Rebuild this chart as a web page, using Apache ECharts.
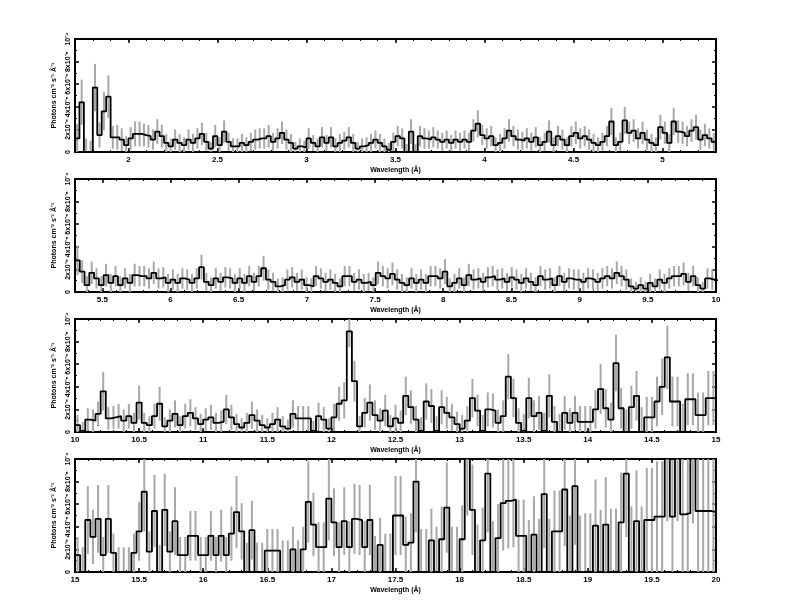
<!DOCTYPE html>
<html>
<head>
<meta charset="utf-8">
<script src="https://cdn.jsdelivr.net/npm/echarts@6/dist/echarts.min.js"></script>
<style>
  html, body { margin: 0; background: #fff; }
  #chart { width: 792px; height: 612px; }
</style>
</head>
<body>
<div id="chart"></div>
<script>
// flux values in units of 1e-6 photons cm-2 s-1 A-1, one per wavelength bin
const p1Val = [12,44,0,0,57,15,36,49,13,13, 11,6,12,16,16,15,14,11,18,14, 8,5,11,8,6,11,8,12,16,9,
  3,14,6,18,9,5,5,8,6,9, 11,12,12,14,9,12,17,11,8,3, 5,4,12,8,5,13,8,13,5,8, 10,13,
  8,3,5,6,8,11,8,5,2,9, 14,12,0,18,0,14,12,11,13,11, 9,11,8,11,9,11,9,19,25,15,
  12,14,6,8,12,19,14,11,10,12, 9,13,6,9,18,6,14,11,6,14, 17,12,14,11,8,6,9,14,27,6,
  9,28,17,19,12,17,11,8,6,22, 17,8,27,18,17,14,19,22,11,15, 12,9];
const p1Err = [13,20,12,10,21,11,17,19,10,11, 10,8,10,11,11,10,10,9,11,10, 8,7,9,8,7,9,8,9,10,8,
  6,10,7,10,8,7,7,8,7,8, 9,9,9,10,8,9,10,9,8,6, 7,6,9,7,7,9,7,9,7,8, 8,9,
  8,6,7,7,8,8,8,7,6,8, 9,9,7,11,7,9,9,8,9,8, 8,8,7,8,8,8,8,10,12,9,
  9,9,7,8,9,10,9,9,8,9, 8,9,7,8,10,7,9,9,7,9, 10,9,9,9,8,7,8,9,12,7,
  8,12,10,10,9,10,9,8,7,11, 10,8,12,10,10,9,10,11,9,10, 9,8];

const p2Val = [28,18,6,17,12,6,15,8,14,6, 12,8,15,14,14,12,17,12,13,8, 11,8,12,11,8,12,22,9,6,12,
  9,13,12,8,12,8,14,9,14,21, 11,9,5,6,11,13,9,11,6,5, 14,12,9,11,8,5,14,14,9,11,
  8,9,6,17,14,12,16,11,8,6,
  12,8,11,8,14,14,12,18,5,8, 12,6,15,11,12,9,13,14,11,12, 9,13,11,8,12,9,6,14,11,12,
  6,14,9,12,11,11,9,12,11,9, 12,14,12,17,14,11,5,3,6,3, 8,5,11,8,12,14,14,16,9,14,
  6,3,12,11,10];
const p2Err = [13,10,8,10,9,8,10,8,9,8, 9,8,10,9,9,9,10,9,9,8, 9,8,9,9,8,9,11,8,7,9,
  8,9,9,8,9,8,9,8,9,11, 9,8,7,7,9,9,8,9,7,7, 9,9,8,9,8,7,9,9,8,9,
  8,8,7,10,9,9,10,9,8,7,
  9,8,9,8,9,9,9,11,7,8, 9,7,10,9,9,8,9,9,9,9, 8,9,9,8,9,8,7,9,9,9,
  7,9,8,9,9,9,8,9,9,8, 9,9,9,10,9,9,7,6,7,6, 8,7,9,8,9,9,9,10,8,9,
  7,6,9,9,9];

const p3Val = [6,1,11,10,16,36,12,13,14,10, 14,8,26,8,6,14,25,5,10,16, 6,14,17,12,7,11,13,8,9,20,
  13,7,4,8,15,10,6,4,7,11, 5,3,16,12,12,12,1,14,11,3, 13,25,28,89,45,5,17,26,15,10,
  19,5,12,8,32,22,11,1,27,23, 1,22,17,13,7,3,10,30,19,1, 20,19,8,14,49,30,8,1,30,14,
  17,1,32,9,0,17,8,17,9,9, 9,20,38,21,11,61,21,0,22,32, 0,13,13,27,40,66,27,27,0,29,
  29,15,15,30,30];
const p3Err = [9,8,10,10,11,17,10,10,11,10, 11,9,15,9,8,11,15,8,10,12, 8,11,12,10,9,10,11,9,10,13,
  11,9,8,9,12,10,9,8,10,11, 9,8,12,11,11,11,9,12,11,9, 12,15,16,14,18,9,13,16,13,11,
  14,10,12,11,17,15,12,12,16,15, 13,15,14,12,11,12,13,17,14,14, 15,15,12,14,20,17,13,15,18,14,
  15,16,19,14,16,15,13,15,14,14, 14,17,22,17,15,25,18,20,19,22, 22,18,18,22,25,28,22,22,25,23,
  23,20,20,24,24];

const p4Val = [15,0,46,31,47,15,47,17,0,0, 0,17,36,71,18,54,0,55,18,45, 15,15,32,32,15,15,32,15,32,15,
  34,53,36,0,37,0,0,19,19,19, 0,0,20,0,20,62,42,22,22,65, 44,22,45,22,47,46,22,46,0,24,
  0,0,50,50,24,26,80,0,0,28, 0,29,57,0,0,29,105,55,0,28, 87,0,30,61,63,64,32,32,0,33,
  0,69,0,36,36,73,0,76,0,0, 0,41,0,42,0,0,44,87,0,45, 0,46,46,49,49,105,49,105,51,52,
  105,54,54,54,53];
const p4Err = [16,22,30,24,30,16,30,17,22,22, 22,17,26,35,18,32,24,32,18,30, 16,16,22,22,16,16,22,16,23,16,
  24,32,25,26,26,26,26,19,19,19, 28,28,20,28,20,36,28,22,22,37, 30,22,30,23,31,31,23,31,32,24,
  34,34,35,35,25,26,45,38,38,28, 40,29,40,40,40,30,55,40,42,29, 52,45,30,42,42,42,32,32,46,34,
  47,48,47,36,36,50,50,52,50,52, 52,41,55,42,56,56,44,56,58,45, 58,46,46,49,49,60,50,60,51,52,
  62,54,54,54,53];

// labelled wavelength ticks for each panel
const p1Ticks = [2, 2.5, 3, 3.5, 4, 4.5, 5];
const p2Ticks = [5.5, 6, 6.5, 7, 7.5, 8, 8.5, 9, 9.5, 10];
const p3Ticks = [10, 10.5, 11, 11.5, 12, 12.5, 13, 13.5, 14, 14.5, 15];
const p4Ticks = [15, 15.5, 16, 16.5, 17, 17.5, 18, 18.5, 19, 19.5, 20];

const panels = [
  { min: 1.7, max: 5.3, bin: 0.025, val: p1Val, err: p1Err, ticks: p1Ticks },
  { min: 5.3, max: 10, bin: 0.035, val: p2Val, err: p2Err, ticks: p2Ticks },
  { min: 10, max: 15, bin: 0.04, val: p3Val, err: p3Err, ticks: p3Ticks },
  { min: 15, max: 20, bin: 0.04, val: p4Val, err: p4Err, ticks: p4Ticks },
];
const tops = [39, 179, 319, 459];

const font = { fontFamily: "Liberation Sans", fontWeight: "bold", color: "#000" };

function yFmt(v) {
  if (v === 0) return "0";
  if (v === 100) return "10⁻⁴";
  return v / 10 + "x10⁻⁵";
}

function minorTicks(min, max) {
  let out = [];
  for (let t = Math.ceil(min * 10); t <= Math.floor(max * 10); t++) out.push(t / 10);
  return out;
}

const grid = [], xAxis = [], yAxis = [], series = [];

panels.forEach((p, g) => {
  grid.push({
    left: 75, width: 641, top: tops[g], height: 113,
    show: true, borderColor: "#000", borderWidth: 2, backgroundColor: "transparent",
  });
  const minors = minorTicks(p.min, p.max);
  const base = { gridIndex: g, type: "value", min: p.min, max: p.max,
    axisLine: { show: false }, splitLine: { show: false } };
  // bottom: major ticks + labels + name
  xAxis.push(Object.assign({}, base, {
    position: "bottom",
    axisTick: { inside: true, length: 4, customValues: p.ticks, lineStyle: { color: "#000", width: 1.5 } },
    axisLabel: { customValues: p.ticks, fontSize: 8, margin: 4, ...font },
    name: "Wavelength (Å)", nameLocation: "middle", nameGap: 15,
    nameTextStyle: { fontSize: 7, ...font },
  }));
  xAxis.push(Object.assign({}, base, {
    position: "bottom",
    axisTick: { inside: true, length: 2, customValues: minors, lineStyle: { color: "#000" } },
    axisLabel: { show: false },
  }));
  xAxis.push(Object.assign({}, base, {
    position: "top",
    axisTick: { inside: true, length: 4, customValues: p.ticks, lineStyle: { color: "#000", width: 1.5 } },
    axisLabel: { show: false },
  }));
  xAxis.push(Object.assign({}, base, {
    position: "top",
    axisTick: { inside: true, length: 2, customValues: minors, lineStyle: { color: "#000" } },
    axisLabel: { show: false },
  }));

  const ybase = { gridIndex: g, type: "value", min: 0, max: 100, interval: 20,
    axisLine: { show: false }, splitLine: { show: false },
    axisTick: { inside: true, length: 4, lineStyle: { color: "#000", width: 1.5 } },
    minorTick: { show: true, splitNumber: 2, length: 2, lineStyle: { color: "#000" } } };
  yAxis.push(Object.assign({}, ybase, {
    position: "left",
    axisLabel: { rotate: 90, fontSize: 7, margin: 3, formatter: yFmt, hideOverlap: false, ...font },
    name: "Photons cm⁻² s⁻¹ Å⁻¹", nameLocation: "middle", nameGap: 8,
    nameTextStyle: { fontSize: 7, ...font },
  }));
  yAxis.push(Object.assign({}, ybase, { position: "right", axisLabel: { show: false } }));

  const bars = p.val.map((v, i) => {
    const c = p.min + (i + 0.5) * p.bin;
    return [c, Math.max(0, v - p.err[i]), Math.min(100, v + p.err[i])];
  });
  const steps = p.val.map((v, i) => [p.min + i * p.bin, v]);
  steps.push([p.min + p.val.length * p.bin, p.val[p.val.length - 1]]);

  series.push({
    type: "custom", xAxisIndex: g * 4, yAxisIndex: g * 2, clip: true,
    encode: { x: 0, y: [1, 2] }, data: bars, z: 2,
    renderItem: (params, api) => {
      const a = api.coord([api.value(0), api.value(1)]);
      const b = api.coord([api.value(0), api.value(2)]);
      return { type: "line", shape: { x1: a[0], y1: a[1], x2: b[0], y2: b[1] },
        style: { stroke: "#a8a8a8", lineWidth: 2 } };
    },
  });
  series.push({
    type: "line", xAxisIndex: g * 4, yAxisIndex: g * 2, step: "end",
    data: steps, showSymbol: false, clip: true, z: 3,
    lineStyle: { color: "#000", width: 1.8 },
  });
});

const chart = echarts.init(document.getElementById("chart"), null, { renderer: "canvas" });
chart.setOption({ animation: false, backgroundColor: "#fff", grid, xAxis, yAxis, series });
</script>
</body>
</html>
